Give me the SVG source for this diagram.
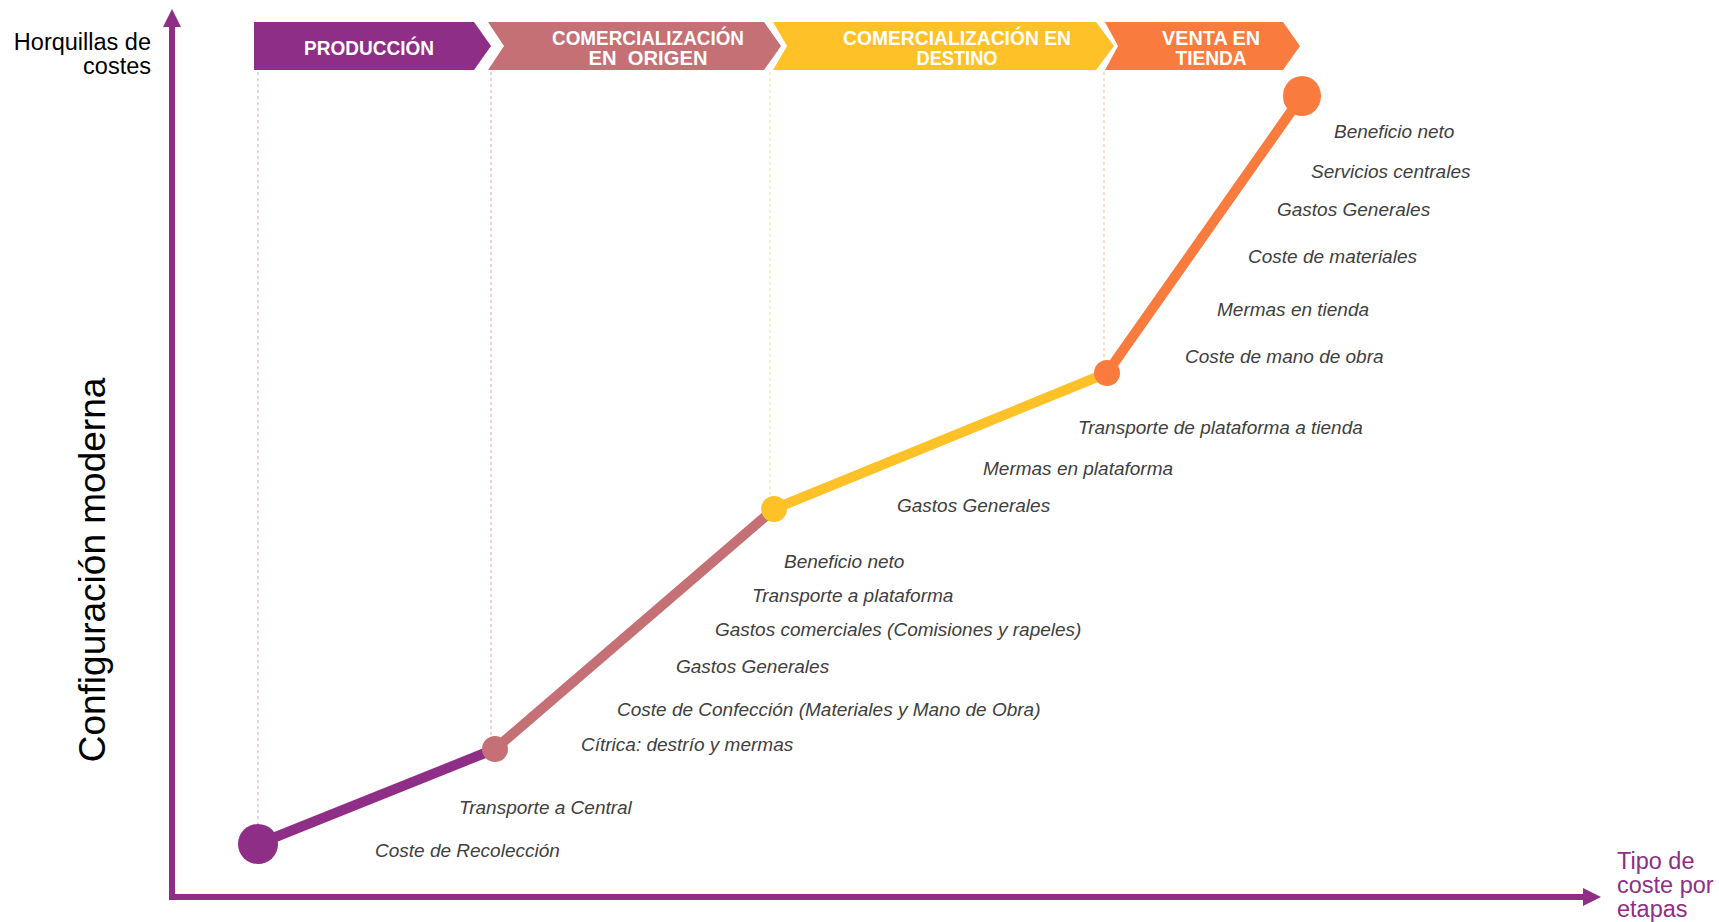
<svg xmlns="http://www.w3.org/2000/svg" width="1719" height="922" viewBox="0 0 1719 922">
<style>
.lbl{font-family:"Liberation Sans",Arial,sans-serif;font-style:italic;font-size:19px;fill:#404040}
.ban{font-family:"Liberation Sans",Arial,sans-serif;font-weight:bold;font-size:20px;fill:#ffffff;text-anchor:middle}
.ax{font-family:"Liberation Sans",Arial,sans-serif;font-size:23.5px}
.guide{stroke-width:1;stroke-dasharray:3 3;fill:none}
.seg{stroke-width:10;fill:none}
.axis{stroke:#8E2E86;stroke-width:6}
.head{fill:#8E2E86}
</style>
<rect width="1719" height="922" fill="#ffffff"/>
<g id="axes">
<line class="axis" x1="172" y1="897" x2="172" y2="26"/>
<polygon class="head" points="172,9 163,27 181,27"/>
<line class="axis" x1="169" y1="897" x2="1585" y2="897"/>
<polygon class="head" points="1601,897 1583,888 1583,906"/>
<text class="ax" x="151" y="50" text-anchor="end" fill="#000000">Horquillas de</text>
<text class="ax" x="151" y="74" text-anchor="end" fill="#000000">costes</text>
<text class="ax" x="1617" y="869" fill="#8E2E86">Tipo de</text>
<text class="ax" x="1617" y="893" fill="#8E2E86">coste por</text>
<text class="ax" x="1617" y="917" fill="#8E2E86">etapas</text>
<text x="0" y="0" transform="translate(105,570) rotate(-90)" text-anchor="middle" font-family="Liberation Sans, Arial, sans-serif" font-size="37" fill="#000000">Configuración moderna</text>
</g>
<g id="stage-produccion">
<path d="M254,22 H474 L491,46 L474,70 H254 Z" fill="#8E2E86"/>
<text class="ban" x="369" y="55" textLength="130" lengthAdjust="spacingAndGlyphs">PRODUCCIÓN</text>
</g>
<g id="stage-origen">
<path d="M488,22 H764 L781,46 L764,70 H488 L504,46 Z" fill="#C47074"/>
<text class="ban" x="648" y="45" textLength="192" lengthAdjust="spacingAndGlyphs">COMERCIALIZACIÓN</text>
<text class="ban" x="648" y="65" xml:space="preserve" textLength="119" lengthAdjust="spacingAndGlyphs">EN  ORIGEN</text>
</g>
<g id="stage-destino">
<path d="M773,22 H1096 L1114,46 L1096,70 H773 L787,46 Z" fill="#FEC228"/>
<text class="ban" x="957" y="45" textLength="228" lengthAdjust="spacingAndGlyphs">COMERCIALIZACIÓN EN</text>
<text class="ban" x="957" y="65" textLength="81" lengthAdjust="spacingAndGlyphs">DESTINO</text>
</g>
<g id="stage-venta">
<path d="M1105,22 H1283 L1300,46 L1283,70 H1105 L1118,46 Z" fill="#FA7B3E"/>
<text class="ban" x="1211" y="45" textLength="98" lengthAdjust="spacingAndGlyphs">VENTA EN</text>
<text class="ban" x="1211" y="65" textLength="71" lengthAdjust="spacingAndGlyphs">TIENDA</text>
</g>
<g id="connectors">
<line class="guide" x1="258" y1="72" x2="258" y2="826" stroke="#D9A3CF"/>
<line class="guide" x1="491" y1="72" x2="491" y2="738" stroke="#E0A6A9"/>
<line class="guide" x1="770" y1="72" x2="770" y2="498" stroke="#FEDC86"/>
<line class="guide" x1="1104" y1="72" x2="1104" y2="362" stroke="#F9B995"/>
<line class="seg" x1="258" y1="844" x2="495" y2="749" stroke="#8E2E86"/>
<line class="seg" x1="495" y1="749" x2="774" y2="509" stroke="#C47074"/>
<line class="seg" x1="774" y1="509" x2="1107" y2="373" stroke="#FEC228"/>
<line class="seg" x1="1107" y1="373" x2="1302" y2="96" stroke="#FA7B3E"/>
</g>
<g id="point-1"><circle cx="258" cy="844" r="20" fill="#8E2E86"/></g>
<g id="point-2"><circle cx="495" cy="749" r="13" fill="#C47074"/></g>
<g id="point-3"><circle cx="774" cy="509" r="13" fill="#FEC228"/></g>
<g id="point-4"><circle cx="1107" cy="373" r="13" fill="#FA7B3E"/></g>
<g id="point-5"><ellipse cx="1302" cy="96" rx="19" ry="20" fill="#FA7B3E"/></g>
<g id="labels">
<text class="lbl" x="375" y="857">Coste de Recolección</text>
<text class="lbl" x="459" y="814">Transporte a Central</text>
<text class="lbl" x="581" y="751">Cítrica: destrío y mermas</text>
<text class="lbl" x="617" y="716">Coste de Confección (Materiales y Mano de Obra)</text>
<text class="lbl" x="676" y="673">Gastos Generales</text>
<text class="lbl" x="715" y="636">Gastos comerciales (Comisiones y rapeles)</text>
<text class="lbl" x="752" y="602">Transporte a plataforma</text>
<text class="lbl" x="784" y="568">Beneficio neto</text>
<text class="lbl" x="897" y="512">Gastos Generales</text>
<text class="lbl" x="983" y="475">Mermas en plataforma</text>
<text class="lbl" x="1078" y="434">Transporte de plataforma a tienda</text>
<text class="lbl" x="1185" y="363">Coste de mano de obra</text>
<text class="lbl" x="1217" y="316">Mermas en tienda</text>
<text class="lbl" x="1248" y="263">Coste de materiales</text>
<text class="lbl" x="1277" y="216">Gastos Generales</text>
<text class="lbl" x="1311" y="178">Servicios centrales</text>
<text class="lbl" x="1334" y="138">Beneficio neto</text>
</g>
</svg>
